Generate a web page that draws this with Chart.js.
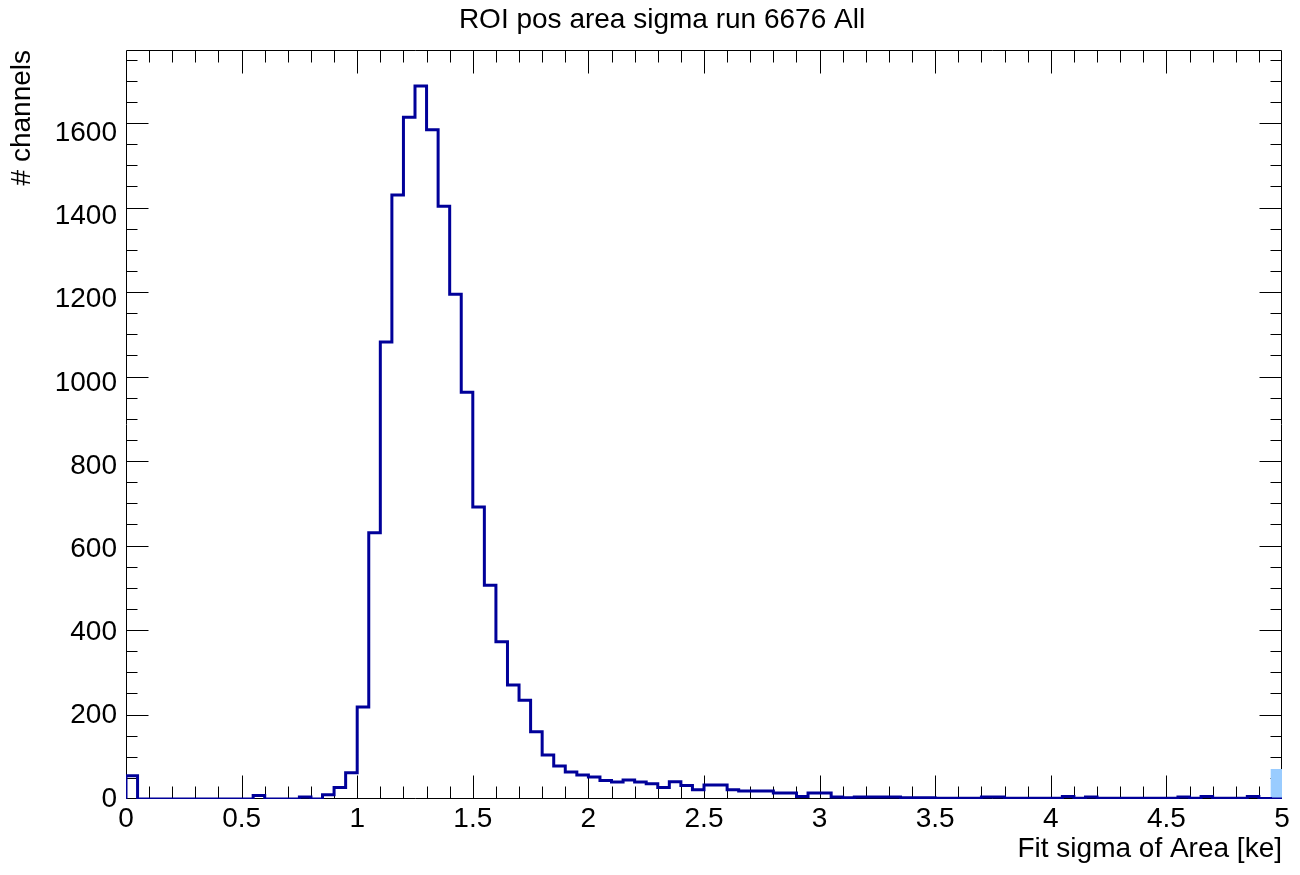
<!DOCTYPE html>
<html>
<head>
<meta charset="utf-8">
<script src="https://cdn.jsdelivr.net/npm/chart.js@4.4.1/dist/chart.umd.min.js"></script>
<style>
html,body{margin:0;padding:0;background:#fff;}
#wrap{width:1300px;height:875px;}
</style>
</head>
<body>
<div id="wrap"><canvas id="c" width="1300" height="875"></canvas></div>
<script>
// ---- data ----
const titleText = 'ROI pos area sigma run 6676 All';
const xAxisTitle = 'Fit sigma of Area [ke]';
const yAxisTitle = '# channels';
const binWidth = 0.05;
const xMin = 0, xMax = 5;
const yMin = 0, yMax = 1773;
const counts = [
  55,0,0,0,0,0,0,0,0,0,
  0,8,0,0,0,5,0,10,27,62,
  218,630,1082,1430,1614,1688,1584,1403,1195,963,
  691,506,372,270,234,159,104,78,64,57,
  52,44,40,45,40,36,27,41,32,22,
  33,33,22,19,19,19,14,14,6,14,
  14,5,3,5,5,5,5,3,3,3,
  2,2,2,2,5,5,2,2,2,2,
  2,6,2,5,2,2,2,2,2,2,
  2,5,2,6,2,2,2,6,1,0
];
const highlightEdges = [4.95, 5.0];
const highlightCounts = [71, 71];
const xTickLabels = ['0','0.5','1','1.5','2','2.5','3','3.5','4','4.5','5'];
const yTickLabels = ['0','200','400','600','800','1000','1200','1400','1600'];
const xMajorStep = 0.5, xMinorPerMajor = 5;
const yMajorStep = 200, yMinorPerMajor = 4;

// ---- build histogram outline points ----
const histPoints = [{x: xMin, y: 0}];
counts.forEach((c, i) => histPoints.push({x: +(i * binWidth).toFixed(4), y: c}));
histPoints.push({x: xMax, y: counts[counts.length - 1]});
const highlightPoints = highlightEdges.map((e, i) => ({x: e, y: highlightCounts[i]}));

const FONT = '"Liberation Sans", Arial, Helvetica, sans-serif';

const frameTicks = {
  id: 'frameTicks',
  beforeDatasetsDraw(chart) {
    const {ctx, chartArea: {left, right, top, bottom}, scales: {x, y}} = chart;
    ctx.save();
    ctx.strokeStyle = '#000';
    ctx.lineWidth = 1;
    ctx.beginPath();
    const L = Math.round(left) + 0.5, R = Math.round(right) - 0.5;
    const T = Math.round(top) + 0.5, B = Math.round(bottom) - 0.5;
    ctx.rect(L, T, R - L, B - T);
    const xMinor = xMajorStep / xMinorPerMajor;
    const nx = Math.round((xMax - xMin) / xMinor);
    for (let k = 1; k < nx; k++) {
      const px = Math.round(x.getPixelForValue(xMin + k * xMinor)) + 0.5;
      const len = (k % xMinorPerMajor === 0) ? 23 : 12;
      ctx.moveTo(px, B); ctx.lineTo(px, B - len);
      ctx.moveTo(px, T); ctx.lineTo(px, T + len);
    }
    const yMinor = yMajorStep / yMinorPerMajor;
    for (let k = 1; yMin + k * yMinor < yMax; k++) {
      const py = Math.round(y.getPixelForValue(yMin + k * yMinor)) + 0.5;
      const len = (k % yMinorPerMajor === 0) ? 22 : 11;
      ctx.moveTo(L, py); ctx.lineTo(L + len, py);
      ctx.moveTo(R, py); ctx.lineTo(R - len, py);
    }
    ctx.stroke();
    ctx.restore();
  },
  afterDraw(chart) {
    const {ctx} = chart;
    ctx.save();
    ctx.fillStyle = '#000';
    ctx.font = '28px ' + FONT;
    ctx.textAlign = 'center';
    ctx.textBaseline = 'alphabetic';
    ctx.fillText(titleText, 662, 28);
    ctx.restore();
  }
};

new Chart(document.getElementById('c'), {
  type: 'line',
  data: {
    datasets: [
      {
        data: histPoints,
        borderColor: '#000099',
        borderWidth: 3,
        pointRadius: 0,
        stepped: 'before',
        fill: false,
        tension: 0
      },
      {
        data: highlightPoints,
        borderColor: 'rgba(0,0,0,0)',
        borderWidth: 0,
        backgroundColor: 'rgb(153,204,255)',
        pointRadius: 0,
        stepped: 'before',
        fill: 'origin'
      }
    ]
  },
  options: {
    responsive: false,
    animation: false,
    devicePixelRatio: 1,
    layout: {padding: {top: 50, right: 18, left: 0, bottom: 0}},
    plugins: {
      legend: {display: false},
      tooltip: {enabled: false},
      title: {display: false}
    },
    scales: {
      x: {
        type: 'linear',
        min: xMin,
        max: xMax,
        grid: {display: false, drawTicks: false},
        border: {display: false},
        ticks: {
          stepSize: xMajorStep,
          autoSkip: false,
          maxRotation: 0,
          color: '#000',
          padding: 3,
          font: {family: FONT, size: 28},
          callback: (v, i) => xTickLabels[i]
        },
        title: {
          display: true,
          text: xAxisTitle,
          align: 'end',
          color: '#000',
          font: {family: FONT, size: 28},
          padding: {top: 0, bottom: 9}
        },
        afterFit(s) { s.height = 76; }
      },
      y: {
        type: 'linear',
        min: yMin,
        max: yMax,
        grid: {display: false, drawTicks: false},
        border: {display: false},
        ticks: {
          stepSize: yMajorStep,
          includeBounds: false,
          autoSkip: false,
          color: '#000',
          padding: 9,
          font: {family: FONT, size: 28},
          callback: (v, i) => yTickLabels[i]
        },
        title: {
          display: true,
          text: yAxisTitle,
          align: 'end',
          color: '#000',
          font: {family: FONT, size: 28},
          padding: {top: 5, bottom: 0}
        },
        afterFit(s) { s.width = 126; }
      }
    }
  },
  plugins: [frameTicks]
});
</script>
</body>
</html>
